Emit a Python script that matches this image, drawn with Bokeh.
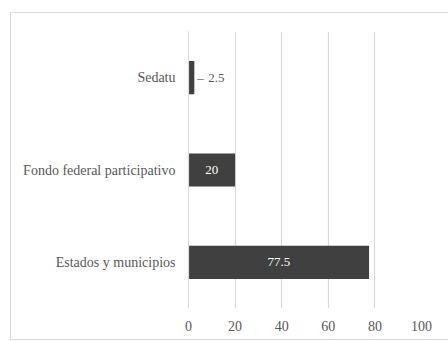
from bokeh.plotting import figure
from bokeh.models import ColumnDataSource, FixedTicker, Range1d
from bokeh.core.properties import value
from bokeh.embed import file_html
from bokeh.resources import INLINE

categories = ["Estados y municipios", "Fondo federal participativo", "Sedatu"]
values = [77.5, 20, 2.5]
inside_labels = ["77.5", "20"]
outside_labels = ["2.5"]
x_ticks = [0, 20, 40, 60, 80, 100]

FONT = "Liberation Serif"
GREY = "#595959"
BAR = "#404040"

src = ColumnDataSource(dict(cat=categories, val=values))

p = figure(width=440, height=328, y_range=categories, x_range=Range1d(0, 100),
           output_backend="svg", toolbar_location=None,
           min_border_left=177, min_border_right=30, min_border_top=18, min_border_bottom=33)
p.styles = {"margin-left": "10px", "margin-top": "12px", "border": "1px solid #d9d9d9"}

p.hbar(y="cat", right="val", left=0, height=0.36, source=src, color=BAR, line_color=None)

inside = ColumnDataSource(dict(cat=categories[:2], mid=[v / 2 for v in values[:2]], lab=inside_labels))
p.text(x="mid", y="cat", text="lab", source=inside, text_color="white",
       text_font=value(FONT), text_font_size="13px", text_align="center", text_baseline="middle")

outside = ColumnDataSource(dict(cat=categories[2:], val=values[2:], lab=outside_labels))
p.text(x="val", y="cat", text="lab", source=outside, text_color=GREY, x_offset=14,
       text_font=value(FONT), text_font_size="13px", text_align="left", text_baseline="middle")
p.text(x="val", y="cat", text=value("–"), source=outside, text_color=GREY, x_offset=3,
       text_font=value(FONT), text_font_size="13px", text_align="left", text_baseline="middle")

p.outline_line_color = None
p.ygrid.grid_line_color = None
p.xgrid.grid_line_color = "#d9d9d9"
p.xgrid.grid_line_width = 1.2
p.xaxis.ticker = FixedTicker(ticks=x_ticks)

for ax in (p.xaxis[0], p.yaxis[0]):
    ax.axis_line_color = None
    ax.major_tick_line_color = None
    ax.minor_tick_line_color = None
    ax.major_label_text_font = FONT
    ax.major_label_text_font_size = "14px"
    ax.major_label_text_color = GREY
p.yaxis.axis_line_color = "#d9d9d9"
p.yaxis.axis_line_width = 1.2
p.xaxis.major_label_standoff = 6
p.yaxis.major_label_standoff = 7

open("out.html", "w").write(file_html(p, INLINE))
